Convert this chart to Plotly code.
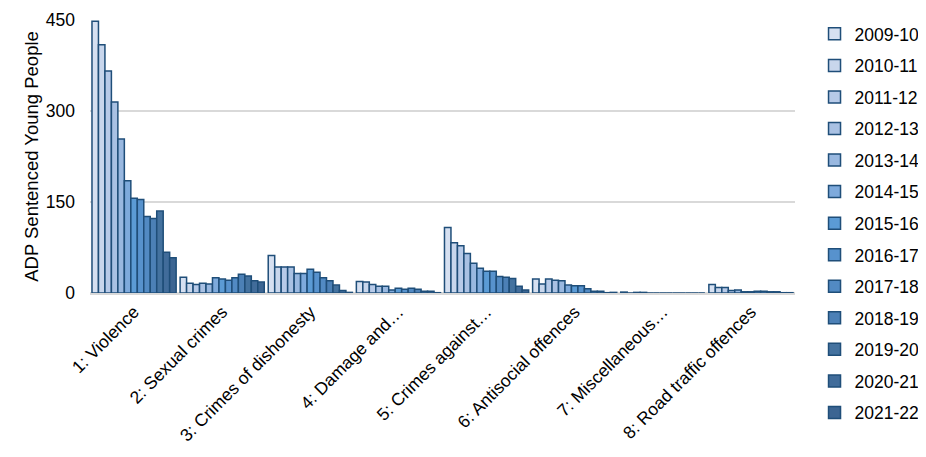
import plotly.graph_objects as go

categories = ["1: Violence", "2: Sexual crimes", "3: Crimes of dishonesty", "4: Damage and…",
              "5: Crimes against…", "6: Antisocial offences", "7: Miscellaneous…",
              "8: Road traffic offences"]
years = ["2009-10", "2010-11", "2011-12", "2012-13", "2013-14", "2014-15", "2015-16",
         "2016-17", "2017-18", "2018-19", "2019-20", "2020-21", "2021-22"]

# values per category, one entry per year
violence = [448, 409, 366, 315, 254, 185, 156, 154, 126, 123, 135, 67, 58]
sexual = [26, 16, 14, 16, 15, 25, 23, 21, 25, 31, 28, 20, 18]
dishonesty = [62, 43, 43, 43, 32, 32, 39, 34, 25, 20, 13, 4, 1]
damage = [19, 18, 14, 11, 11, 5, 8, 6, 8, 6, 3, 3, 0.5]
against = [108, 83, 78, 65, 49, 41, 36, 36, 27, 26, 24, 11, 5]
antisocial = [23, 15, 23, 21, 20, 13, 12, 12, 7, 3, 3, 0.5, 1]
misc = [1.5, 0, 1, 1, 0, 0, 0, 0, 0, 0, 0, 0, 0]
road = [14, 9, 9, 4, 5, 2, 2, 3, 3, 2, 2, 0.5, 0.5]

colors = ["#d6e0f1", "#c8d6ec", "#b7cae8", "#a9c1e3", "#99b8e0", "#7eaadc", "#5b9bd5",
          "#5792cd", "#528ac3", "#4c80b6", "#44729f", "#416c9a", "#3c6592"]

table = [violence, sexual, dishonesty, damage, against, antisocial, misc, road]

fig = go.Figure()
for i, yr in enumerate(years):
    fig.add_trace(go.Bar(
        x=categories, y=[row[i] for row in table], name=yr,
        marker=dict(color=colors[i], line=dict(color="#1f4e79", width=1.5)),
        legendgroup=yr,
    ))

font = "Liberation Sans, Arial, sans-serif"
fig.update_layout(
    width=918, height=449,
    margin=dict(l=82, r=131, t=12, b=164, autoexpand=False),
    barmode="group", bargap=0.045, bargroupgap=0,
    plot_bgcolor="white", paper_bgcolor="white",
    font=dict(family=font, size=17.5, color="#000000"),
    showlegend=True,
    legend=dict(x=1.0277, y=1.0147, xanchor="left", yanchor="top", tracegroupgap=5.8,
                font=dict(size=17.5), itemwidth=30, bgcolor="rgba(0,0,0,0)",
                maxheight=449),
    xaxis=dict(tickangle=-45, tickfont=dict(size=17.5), showline=True, linecolor="#d9d9d9",
               linewidth=1.5, ticks="", automargin=False),
    yaxis=dict(range=[0, 450], dtick=150, showgrid=True, gridcolor="#d9d9d9", gridwidth=1.5,
               zeroline=True, zerolinecolor="#d9d9d9", zerolinewidth=1.5,
               title=dict(text="ADP Sentenced Young People", font=dict(size=18.5), standoff=2),
               tickfont=dict(size=17.5), ticks="", ticklabelstandoff=14, automargin=False),
)

fig.write_html("out.html")
